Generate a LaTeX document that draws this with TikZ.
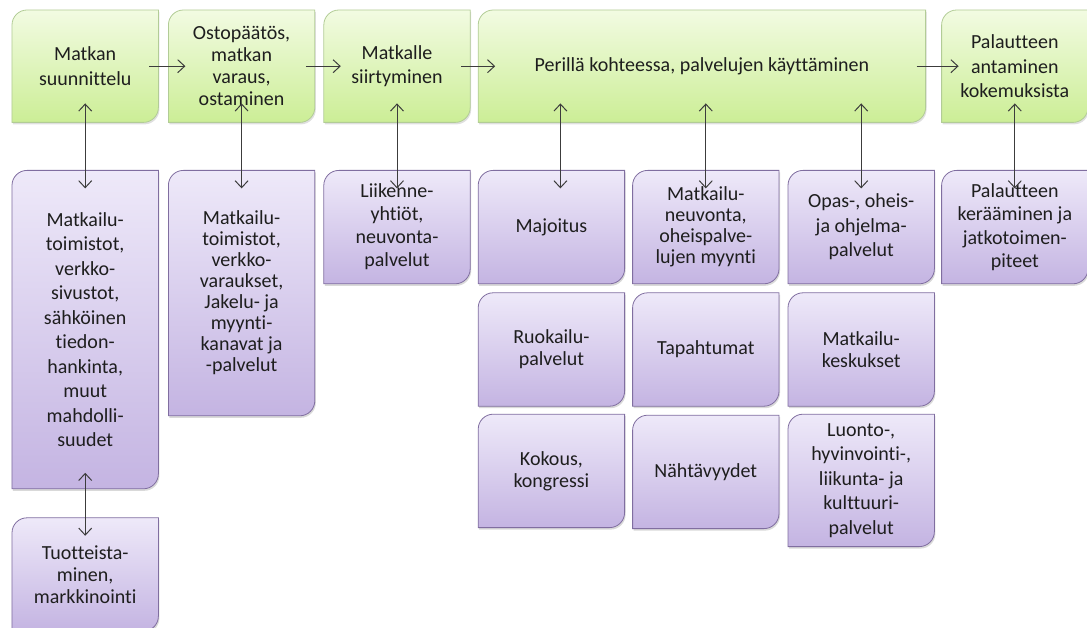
\documentclass[tikz,border=0pt]{standalone}
\usepackage{fontspec}
\setmainfont{Carlito}[Ligatures=NoCommon]
\usetikzlibrary{arrows.meta, positioning, calc, shadows}

\definecolor{StageTop}{RGB}{242,251,226}
\definecolor{StageBottom}{RGB}{204,238,150}
\definecolor{StageLine}{RGB}{178,204,150}
\definecolor{ServiceTop}{RGB}{238,233,249}
\definecolor{ServiceBottom}{RGB}{196,180,226}
\definecolor{ServiceLine}{RGB}{128,110,160}
\definecolor{LinkGray}{RGB}{60,60,60}
\definecolor{TextGray}{RGB}{30,30,30}

\pgfdeclarelayer{background}
\pgfsetlayers{background,main}

% box with two rounded corners (top left, bottom right)
\newcommand{\cutbox}[2]{\path[#2] ([yshift=-15pt]#1.north west) arc[start angle=180, end angle=90, radius=15pt] -- (#1.north east) -- ([yshift=15pt]#1.south east) arc[start angle=0, end angle=-90, radius=15pt] -- (#1.south west) -- cycle;}

\begin{document}
\begin{tikzpicture}
\tikzset{stage/.style={align=center, minimum width=146pt, minimum height=112pt, inner sep=0pt, text=TextGray, font=\fontsize{20}{22}\selectfont},
		service/.style={stage, minimum height=113pt},
		loose/.style={font=\fontsize{20}{24.5}\selectfont},
		greenfill/.style={draw=StageLine, line width=0.8pt, top color=StageTop, bottom color=StageBottom, drop shadow={shadow xshift=1pt, shadow yshift=-2pt, opacity=0.25}},
		violetfill/.style={draw=ServiceLine, line width=0.8pt, top color=ServiceTop, bottom color=ServiceBottom, drop shadow={shadow xshift=1pt, shadow yshift=-2pt, opacity=0.3}},
		link/.style={{Straight Barb[length=7pt, width=13pt]}-{Straight Barb[length=7pt, width=13pt]}, draw=LinkGray, line width=1pt},
		flow/.style={-{Straight Barb[length=7pt, width=13pt]}, draw=LinkGray, line width=1pt}}
\useasboundingbox (-12pt,10pt) rectangle (1075pt,-618pt);

% stages of the trip
\node[stage, loose, anchor=north west] (plan) at (0,0) {Matkan\\suunnittelu};
\node[stage, right=10pt of plan] (buy) {Ostopäätös,\\matkan\\varaus,\\ostaminen};
\node[stage, loose, right=9pt of buy] (move) {Matkalle\\siirtyminen};
\node[stage, minimum width=447pt, right=8pt of move] (stay) {Perillä kohteessa, palvelujen käyttäminen};
\node[stage, loose, right=16pt of stay] (feedback) {Palautteen\\antaminen\\kokemuksista};

% services
\node[service, loose, minimum height=318pt, below=48pt of plan] (agency) {Matkailu-\\toimistot,\\verkko-\\sivustot,\\sähköinen\\tiedon-\\hankinta,\\muut\\mahdolli-\\suudet};
\node[service, below=29pt of agency] (product) {Tuotteista-\\minen,\\markkinointi};
\node[service, font=\fontsize{20}{21}\selectfont, minimum height=245pt, below=48pt of buy] (booking) {Matkailu-\\toimistot,\\verkko-\\varaukset,\\Jakelu- ja\\myynti-\\kanavat ja\\-palvelut};
\node[service, font=\fontsize{20}{23}\selectfont, below=48pt of move] (transport) {Liikenne-\\yhtiöt,\\neuvonta-\\palvelut};
\node[service, below=48pt of stay.south west, anchor=north west] (lodging) {Majoitus};
\node[service, font=\fontsize{20}{21}\selectfont, right=8pt of lodging] (info) {Matkailu-\\neuvonta,\\oheispalve-\\lujen myynti};
\node[service, loose, right=9pt of info] (guide) {Opas-, oheis-\\ja ohjelma-\\palvelut};
\node[service, below=9pt of lodging] (food) {Ruokailu-\\palvelut};
\node[service, below=8pt of food] (meeting) {Kokous,\\kongressi};
\node[service, below=9pt of info] (events) {Tapahtumat};
\node[service, below=9pt of events] (sights) {Nähtävyydet};
\node[service, below=9pt of guide] (centres) {Matkailu-\\keskukset};
\node[service, loose, minimum height=132pt, below=8pt of centres] (nature) {Luonto-,\\hyvinvointi-,\\liikunta- ja\\kulttuuri-\\palvelut};
\node[service, font=\fontsize{20}{23.5}\selectfont, below=48pt of feedback] (collect) {Palautteen\\kerääminen ja\\jatkotoimen-\\piteet};

\begin{pgfonlayer}{background}
\foreach \n in {plan, buy, move, stay, feedback}
	{\cutbox{\n}{greenfill}}
\foreach \n in {agency, product, booking, transport, lodging, info, guide, food, meeting, events, sights, centres, nature, collect}
	{\cutbox{\n}{violetfill}}
\end{pgfonlayer}

\foreach \a/\b in {plan/buy, buy/move, move/stay, stay/feedback}
	\draw[flow] ([xshift=-9pt]\a.east) -- ([xshift=17pt]\b.west);
\foreach \a/\b in {plan/agency, buy/booking, move/transport, feedback/collect}
	\draw[link] ([yshift=19pt]\a.south) -- ([yshift=-18pt]\b.north);
\draw[link] ($(stay.south -| lodging.north)+(9pt,19pt)$) -- ([xshift=9pt, yshift=-18pt]lodging.north);
\draw[link] ($(stay.south -| info.north)+(0,19pt)$) -- ([yshift=-18pt]info.north);
\draw[link] ($(stay.south -| guide.north)+(0,19pt)$) -- ([yshift=-18pt]guide.north);
\draw[link] ([yshift=16pt]agency.south) -- ([yshift=-18pt]product.north);
\end{tikzpicture}
\end{document}
